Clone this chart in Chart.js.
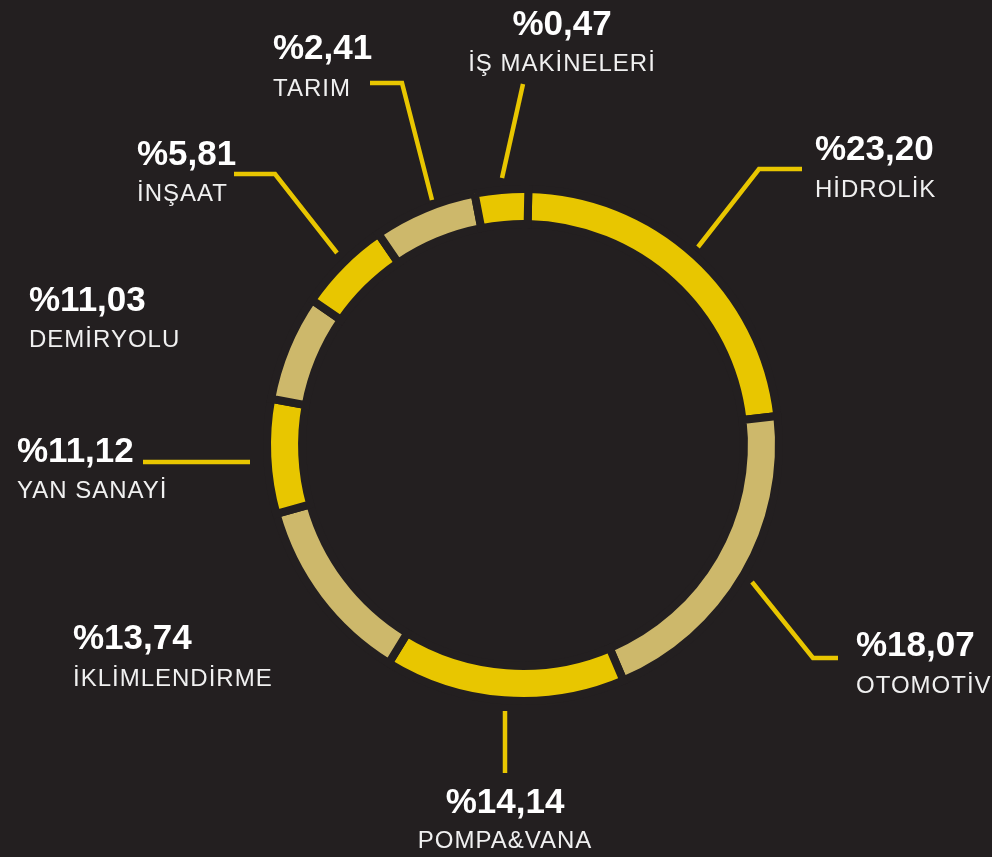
<!DOCTYPE html>
<html lang="tr">
<head>
<meta charset="utf-8">
<script src="https://cdn.jsdelivr.net/npm/chart.js@4/dist/chart.umd.min.js"></script>
<style>
  html, body { margin:0; padding:0; background:#231f20; }
  #wrap { position:relative; width:992px; height:857px; }
</style>
</head>
<body>
<div id="wrap"><canvas id="chart-sectors"></canvas></div>
<script>
// ── Data ─────────────────────────────────────────────────────
const categories = ['HİDROLİK','OTOMOTİV','POMPA&VANA','İKLİMLENDİRME','YAN SANAYİ','DEMİRYOLU','İNŞAAT','TARIM','İŞ MAKİNELERİ'];
const shares     = [23.20, 18.07, 14.14, 13.74, 11.12, 11.03, 5.81, 2.41, 0.47];
// arc sizes as drawn in the picture (degrees) – not proportional to the shares
const arcDegrees = [82.3, 73.4, 54.7, 42.8, 26.0, 24.1, 21.1, 23.5, 12.1];

const C = { bg:'#231f20', yellow:'#e8c600', beige:'#cdb86b', text:'#ffffff', name:'#f0f0f0' };
const segColors = categories.map((_, i) => i % 2 === 0 ? C.yellow : C.beige);

// ── Label layout (text anchor, baselines, leader paths) ──────
const labelLayout = [
  { x:815, align:'left',   pctY:160, nameY:197, leader:[[802,169],[759,169],[698,247]] },
  { x:856, align:'left',   pctY:656, nameY:693, leader:[[752,582],[813,658],[838,658]] },
  { x:505, align:'center', pctY:813, nameY:848, leader:[[505,711],[505,773]] },
  { x:73,  align:'left',   pctY:649, nameY:686, leader:null },
  { x:17,  align:'left',   pctY:462, nameY:498, leader:[[143,462],[250,462]] },
  { x:29,  align:'left',   pctY:311, nameY:347, leader:null },
  { x:137, align:'left',   pctY:165, nameY:201, leader:[[234,174],[275,174],[337,253]] },
  { x:273, align:'left',   pctY:59,  nameY:96,  leader:[[370,83],[402,83],[432,200]] },
  { x:562, align:'center', pctY:35,  nameY:71,  leader:[[523,84],[502,178]] },
];

const fmtPct = v => '%' + v.toFixed(2).replace('.', ',');

const labelsPlugin = {
  id:'sectorLabels',
  afterDraw(chart) {
    const ctx = chart.ctx;
    ctx.save();
    labelLayout.forEach((l, i) => {
      if (l.leader) {
        ctx.beginPath();
        ctx.strokeStyle = C.yellow;
        ctx.lineWidth = 4.5;
        ctx.lineJoin = 'miter';
        l.leader.forEach(([x, y], j) => j ? ctx.lineTo(x, y) : ctx.moveTo(x, y));
        ctx.stroke();
      }
      ctx.textAlign = l.align;
      ctx.textBaseline = 'alphabetic';
      ctx.fillStyle = C.text;
      ctx.letterSpacing = '0px';
      ctx.font = 'bold 35px "Liberation Sans", Arial, sans-serif';
      ctx.fillText(fmtPct(shares[i]), l.x, l.pctY);
      ctx.fillStyle = C.name;
      ctx.letterSpacing = '1px';
      ctx.font = '24px "Liberation Sans", Arial, sans-serif';
      ctx.fillText(categories[i], l.x, l.nameY);
    });
    ctx.restore();
  }
};

new Chart(document.getElementById('chart-sectors'), {
  type:'doughnut',
  data:{
    labels:categories,
    datasets:[{
      data:arcDegrees,
      backgroundColor:segColors,
      borderColor:C.bg,
      borderWidth:8,
      borderJoinStyle:'miter',
      hoverOffset:0,
    }]
  },
  options:{
    responsive:true, maintainAspectRatio:false, animation:false,
    rotation:1.2,
    radius:256,
    cutout:'86.3%',
    layout:{ padding:{ left:54, top:33, right:0, bottom:0 } },
    plugins:{ legend:{display:false}, tooltip:{enabled:false} },
  },
  plugins:[labelsPlugin],
});
</script>
</body>
</html>
